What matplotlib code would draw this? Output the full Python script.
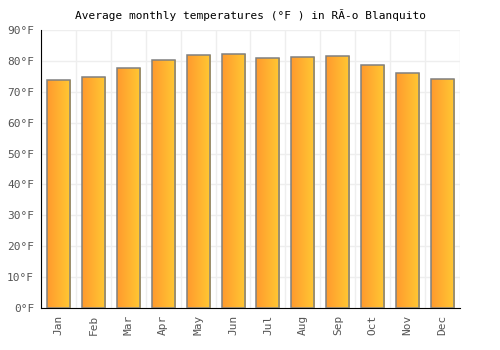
import numpy as np
import matplotlib.pyplot as plt
from matplotlib.colors import LinearSegmentedColormap

months = ['Jan', 'Feb', 'Mar', 'Apr', 'May', 'Jun', 'Jul', 'Aug', 'Sep', 'Oct', 'Nov', 'Dec']
temps_f = [73.7, 74.7, 77.6, 80.2, 81.8, 82.1, 80.8, 81.2, 81.5, 78.6, 76.0, 74.0]
yticks = list(range(0, 91, 10))
ytick_labels = [f'{t}°F' for t in yticks]

plt.rcParams['font.family'] = ['DejaVu Sans Mono', 'DejaVu Sans']

fig = plt.figure(figsize=(5, 3.5), dpi=100)
ax = fig.add_axes([41 / 500, 1 - 308 / 350, 419 / 500, 278 / 350])

x = np.arange(len(months))
bars = ax.bar(x, temps_f, width=0.66, facecolor='none', edgecolor='#808080', linewidth=1.1, zorder=3)

# horizontal gradient inside each bar
cmap = LinearSegmentedColormap.from_list('warm', ['#ff9a2e', '#ffc933'])
grad = np.linspace(0, 1, 64).reshape(1, -1)
for b in bars:
    x0, y0 = b.get_x(), b.get_y()
    im = ax.imshow(grad, cmap=cmap, aspect='auto', zorder=2,
                   extent=[x0, x0 + b.get_width(), y0, y0 + b.get_height()])
    im.set_clip_path(b)

ax.set_xlim(-0.5, len(months) - 0.5)
ax.set_ylim(0, 90)
ax.set_xticks(x)
ax.set_xticklabels(months, rotation=90, fontsize=8, color='#555555')
ax.set_yticks(yticks)
ax.set_yticklabels(ytick_labels, fontsize=8, color='#555555')
ax.tick_params(length=0, pad=5)

# grid: vertical lines between categories, horizontal at each tick
ax.set_xticks(np.arange(-0.5, len(months), 1), minor=True)
ax.grid(which='minor', axis='x', color='#eeeeee', linewidth=1, zorder=0)
ax.grid(which='major', axis='y', color='#eeeeee', linewidth=1, zorder=0)
ax.tick_params(which='minor', length=0)

for s in ['top', 'right']:
    ax.spines[s].set_visible(False)
ax.spines['left'].set_color('black')
ax.spines['bottom'].set_color('black')

ax.set_title('Average monthly temperatures (°F ) in RÃ-o Blanquito', fontsize=8, pad=8)

plt.savefig('out.png', dpi=100)
